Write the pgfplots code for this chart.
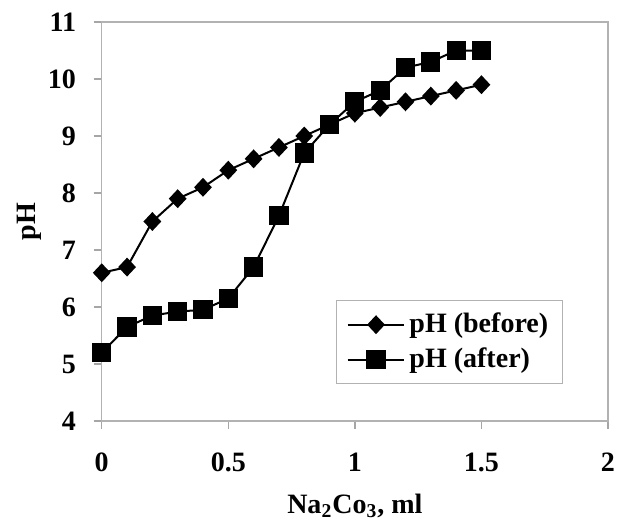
\documentclass[border=0pt]{standalone}
\usepackage{fontspec}
\setmainfont{Liberation Serif}
\usepackage{pgfplots}
\pgfplotsset{compat=1.18}
\begin{document}
\fontsize{14}{16}\selectfont\bfseries
\begin{tikzpicture}
\begin{axis}[
  width=253pt, height=199.4pt, scale only axis,
  xmin=0, xmax=2, ymin=4, ymax=11,
  xtick={0,0.5,1,1.5,2}, ytick={4,5,...,11},
  axis line style={black!30, line width=0.7pt},
  tick style={black!35, line width=0.7pt},
  tick align=outside, major tick length=4pt,
  xtick pos=bottom, ytick pos=left,
  /pgf/number format/assume math mode=true,
  ticklabel style={font=\fontsize{14}{16}\selectfont\bfseries},
  xticklabel style={yshift=-7pt},
  yticklabel style={xshift=-4pt},
  xlabel={Na\textsubscript{2}Co\textsubscript{3}, ml},
  ylabel={pH},
  label style={font=\fontsize{14}{16}\selectfont\bfseries},
  xlabel style={yshift=-1.5pt},
  ylabel style={yshift=-6.5pt},
  legend style={at={(0.911,0.092)}, anchor=south east, draw=black!30, line width=0.7pt,
    font=\fontsize{14}{16}\selectfont\bfseries, row sep=1.5pt, inner xsep=5pt, inner ysep=4pt},
  legend cell align=left,
  legend image code/.code={
    \draw[mark repeat=2,mark phase=2,#1] plot coordinates {(0cm,0cm) (0.5cm,0cm) (1cm,0cm)};},
]
\addplot[black, line width=1pt, mark=diamond*, mark size=4pt, mark options={solid, xscale=1.25}] coordinates {
(0,6.6) (0.1,6.7) (0.2,7.5) (0.3,7.9) (0.4,8.1) (0.5,8.4) (0.6,8.6) (0.7,8.8)
(0.8,9.0) (0.9,9.2) (1.0,9.4) (1.1,9.5) (1.2,9.6) (1.3,9.7) (1.4,9.8) (1.5,9.9)};
\addlegendentry{pH (before)}
\addplot[black, line width=1pt, mark=square*, mark size=4.3pt, mark options={solid}] coordinates {
(0,5.2) (0.1,5.65) (0.2,5.85) (0.3,5.92) (0.4,5.95) (0.5,6.15) (0.6,6.7) (0.7,7.6)
(0.8,8.7) (0.9,9.2) (1.0,9.6) (1.1,9.8) (1.2,10.2) (1.3,10.3) (1.4,10.5) (1.5,10.5)};
\addlegendentry{pH (after)}
\end{axis}
\pgfresetboundingbox
\useasboundingbox ([xshift=-50.85pt,yshift=-50.65pt]current axis.south west) rectangle ([xshift=4.5pt,yshift=11pt]current axis.north east);
\end{tikzpicture}
\end{document}
